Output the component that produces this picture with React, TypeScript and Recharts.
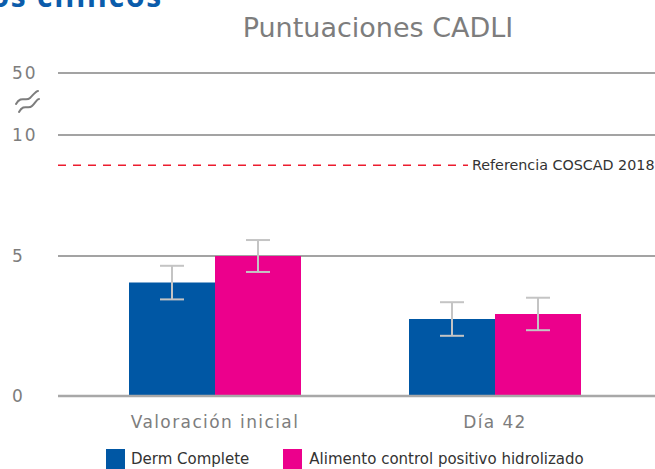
import React from 'react';
import { BarChart, Bar, XAxis, YAxis, CartesianGrid, ErrorBar, ReferenceLine } from 'recharts';

const categories = ['Valoración inicial', 'Día 42'];
const dermValues = [4.05, 2.75];
const dermErrors = [0.6, 0.6];
const controlValues = [5.0, 2.93];
const controlErrors = [0.57, 0.58];
const yTickLabels = [0, 5, 10, 50];
const referenceValue = 8.75;
const seriesNames = ['Derm Complete', 'Alimento control positivo hidrolizado'];
const colors = ['#0057a4', '#ec008c'];

// broken (piecewise) axis transform: real value -> display value
const f = (v: number) => {
  if (v <= 5) return v;
  if (v <= 10) return 5 + (v - 5) * (121 / 140);
  return 5 + 5 * (121 / 140) + ((v - 10) / 40) * (62 / 28);
};

const data = categories.map((c, i) => ({
  name: c,
  derm: f(dermValues[i]),
  dermErr: dermErrors[i],
  control: f(controlValues[i]),
  controlErr: controlErrors[i],
}));

const FONT = '"DejaVu Sans", sans-serif';
const GREY = '#7d7d7d';

const YTick = (props: any) => {
  const { y, payload } = props;
  const idx = yTickLabels.findIndex((t) => Math.abs(f(t) - payload.value) < 1e-6);
  const label = idx >= 0 ? String(yTickLabels[idx]) : '';
  return (
    <g>
      <text x={12} y={y} dy={6} fill={GREY} fontSize={17} letterSpacing={2} fontFamily={FONT}>
        {label}
      </text>
      {label === '10' && (
        <g fill="none" stroke={GREY} strokeWidth={2} strokeLinecap="round">
          <path d={`M16 ${y - 31} C 21 ${y - 40}, 26 ${y - 33}, 30 ${y - 37} S 36 ${y - 44}, 38 ${y - 44}`} />
          <path d={`M19 ${y - 23} C 24 ${y - 32}, 28 ${y - 25}, 32 ${y - 29} S 37 ${y - 36}, 39 ${y - 36}`} />
        </g>
      )}
    </g>
  );
};

const XTick = (props: any) => {
  const { x, y, payload } = props;
  return (
    <text x={x} y={y} dy={14} textAnchor="middle" fill={GREY} fontSize={17} letterSpacing={1.4} fontFamily={FONT}>
      {payload.value}
    </text>
  );
};

const RefLabel = (props: any) => {
  const { viewBox } = props;
  const right = viewBox.x + viewBox.width;
  return (
    <g>
      <rect x={right - 187} y={viewBox.y - 10} width={187} height={20} fill="#ffffff" />
      <text x={right - 183} y={viewBox.y} dy={5} fill="#333333" fontSize={14.3} fontFamily={FONT}>
        Referencia COSCAD 2018
      </text>
    </g>
  );
};

const LegendBox = () => (
  <div style={{ position: 'absolute', left: 106, top: 449, display: 'flex', alignItems: 'center', fontFamily: FONT, fontSize: 15, color: '#333', whiteSpace: 'nowrap' }}>
    {seriesNames.map((n, i) => (
      <div key={n} style={{ display: 'flex', alignItems: 'center', marginRight: i === 0 ? 34 : 0 }}>
        <div style={{ width: 19, height: 20, background: colors[i], marginRight: i === 0 ? 6 : 7 }} />
        <span>{n}</span>
      </div>
    ))}
  </div>
);

export default function App() {
  return (
    <div style={{ position: 'absolute', left: 0, top: 0, width: 655, height: 469, background: '#fff', overflow: 'hidden' }}>
      <svg width={655} height={469} style={{ position: 'absolute', left: 0, top: 0 }}>
        <text x={163} y={7} textAnchor="end" fill="#0b5cab" fontSize={30} fontWeight={700} letterSpacing={1.8} fontFamily='"Open Sans", sans-serif'>
          Resultados clínicos
        </text>
        <text x={378} y={37} textAnchor="middle" fill={GREY} fontSize={27} fontFamily={FONT}>
          Puntuaciones CADLI
        </text>
      </svg>
      <div style={{ position: 'absolute', left: 0, top: 0 }}>
        <BarChart width={655} height={469} data={data} margin={{ top: 73, right: 0, bottom: 43, left: 0 }} barGap={0} barSize={86}>
          <CartesianGrid vertical={false} stroke="#a3a3a3" strokeWidth={2} />
          <XAxis
            dataKey="name"
            height={30}
            padding={{ left: 17, right: 20 }}
            axisLine={{ stroke: '#a8a8a8', strokeWidth: 2.5 }}
            tickLine={false}
            tick={<XTick />}
            tickMargin={12}
            interval={0}
          />
          <YAxis
            width={58}
            domain={[0, f(50)]}
            ticks={yTickLabels.map(f)}
            axisLine={false}
            tickLine={false}
            tick={<YTick />}
            interval={0}
          />
          <ReferenceLine y={f(referenceValue)} stroke="#ec1c2e" strokeWidth={1.6} strokeDasharray="8 7" label={<RefLabel />} />
          <Bar dataKey="derm" name={seriesNames[0]} fill={colors[0]} isAnimationActive={false}>
            <ErrorBar dataKey="dermErr" width={12} stroke="#c4c4c4" strokeWidth={2} />
          </Bar>
          <Bar dataKey="control" name={seriesNames[1]} fill={colors[1]} isAnimationActive={false}>
            <ErrorBar dataKey="controlErr" width={12} stroke="#c4c4c4" strokeWidth={2} />
          </Bar>
        </BarChart>
      </div>
      <LegendBox />
    </div>
  );
}
